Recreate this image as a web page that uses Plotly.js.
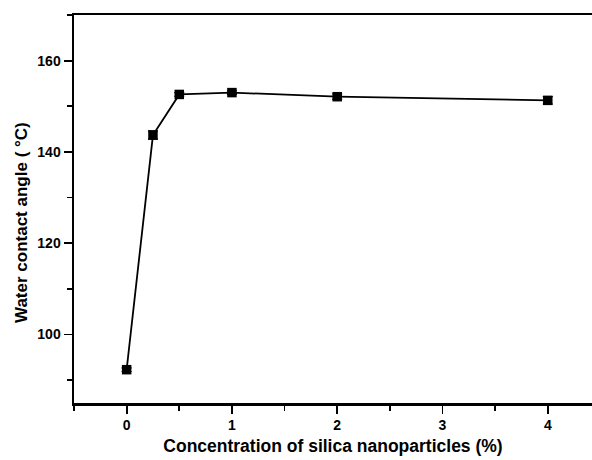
<!DOCTYPE html>
<html>
<head>
<meta charset="utf-8">
<script src="https://cdn.plot.ly/plotly-3.0.1.min.js"></script>
<style>html,body{margin:0;padding:0;background:#fff}#chart{width:592px;height:460px}</style>
</head>
<body>
<div id="chart"></div>
<script>
var concentration = [0, 0.25, 0.5, 1, 2, 4];
var contactAngle = [92.3, 143.7, 152.6, 153.0, 152.1, 151.3];
var angleError = [0.4, 0.9, 0.4, 0.4, 0.6, 0.8];
var xTicks = [0, 1, 2, 3, 4];
var yTicks = [100, 120, 140, 160];

var font = "Liberation Sans, Arial, sans-serif";
var trace = {
  x: concentration, y: contactAngle, type: 'scatter', mode: 'lines+markers',
  line: {color: '#000', width: 1.8},
  marker: {symbol: 'square', size: 9.5, color: '#000'},
  error_y: {type: 'data', array: angleError, visible: true, color: '#000', thickness: 1.2, width: 5}
};
var layout = {
  width: 592, height: 460,
  margin: {l: 74, r: 0, t: 15, b: 57},
  paper_bgcolor: '#fff', plot_bgcolor: '#fff',
  showlegend: false,
  xaxis: {
    range: [-0.5, 4.42], tickvals: xTicks, ticktext: xTicks.map(String),
    ticks: 'outside', ticklen: 8, tickwidth: 1.8, tickcolor: '#000',
    minor: {dtick: 0.5, tick0: 0, ticks: 'outside', ticklen: 5, tickwidth: 1.8, tickcolor: '#000'},
    showline: true, linecolor: '#000', linewidth: 2.5, mirror: true,
    showgrid: false, zeroline: false,
    tickfont: {family: font, size: 14, color: '#000', weight: 'bold'},
    title: {text: 'Concentration of silica nanoparticles (%)', standoff: 8,
      font: {family: font, size: 17.5, color: '#000', weight: 'bold'}}
  },
  yaxis: {
    range: [85, 170], tickvals: yTicks, ticktext: yTicks.map(String),
    ticks: 'outside', ticklen: 8, tickwidth: 1.8, tickcolor: '#000',
    minor: {dtick: 10, tick0: 0, ticks: 'outside', ticklen: 5, tickwidth: 1.8, tickcolor: '#000'},
    showline: true, linecolor: '#000', linewidth: 2.5, mirror: false,
    showgrid: false, zeroline: false,
    tickfont: {family: font, size: 14, color: '#000', weight: 'bold'}
  },
  annotations: [{
    text: 'Water contact angle ( °C)', textangle: -90,
    xref: 'paper', yref: 'paper', x: (21 - 74) / 518, y: (403 - 223) / 388,
    xanchor: 'center', yanchor: 'middle', showarrow: false,
    font: {family: font, size: 17, color: '#000', weight: 'bold'}
  }]
};
Plotly.newPlot('chart', [trace], layout, {staticPlot: true, displayModeBar: false});
</script>
</body>
</html>
